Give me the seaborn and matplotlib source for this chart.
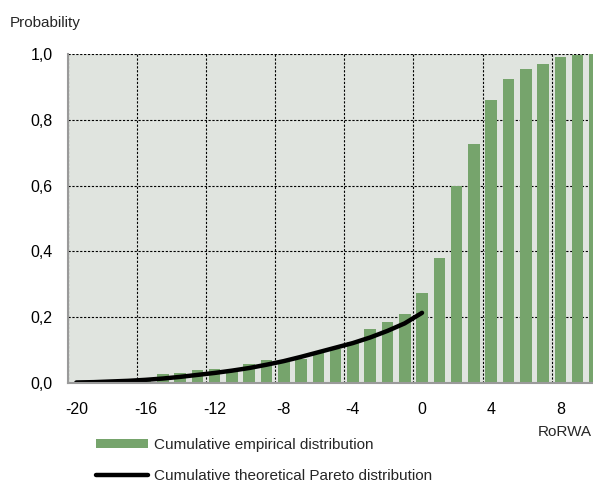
import numpy as np
import pandas as pd
import matplotlib
matplotlib.use("Agg")
import matplotlib.pyplot as plt
import seaborn as sns
from matplotlib.ticker import FuncFormatter

# ---- data ----
rorwa = list(range(-20, 11))
empirical = [0.000, 0.002, 0.004, 0.006, 0.008, 0.026, 0.029, 0.039, 0.042, 0.033,
             0.057, 0.069, 0.064, 0.072, 0.090, 0.103, 0.124, 0.163, 0.184, 0.209,
             0.272, 0.379, 0.600, 0.727, 0.861, 0.924, 0.954, 0.969, 0.991, 0.997,
             1.000]
pareto_x = list(range(-20, 1))
pareto = [0.001, 0.002, 0.004, 0.006, 0.009, 0.013, 0.018, 0.024, 0.030, 0.037,
          0.045, 0.055, 0.066, 0.079, 0.093, 0.107, 0.121, 0.138, 0.158, 0.181,
          0.213]
xtick_vals = [-20, -16, -12, -8, -4, 0, 4, 8]
ytick_vals = [0.0, 0.2, 0.4, 0.6, 0.8, 1.0]
label_emp = "Cumulative empirical distribution"
label_par = "Cumulative theoretical Pareto distribution"

sns.set_style("white")
plt.rcParams['font.family'] = ['Liberation Sans', 'DejaVu Sans']

GREEN = '#76a46c'
BG = '#e0e4df'
W, H = 593, 482

fig = plt.figure(figsize=(W / 100, H / 100), dpi=100)
left, right, top, bottom = 67.7, 603.5, 54.3, 382.8
ax = fig.add_axes([left / W, 1 - bottom / H, (right - left) / W, (bottom - top) / H])
ax.set_facecolor(BG)

df = pd.DataFrame({"RoRWA": rorwa, "p": empirical})
sns.barplot(data=df, x="RoRWA", y="p", native_scale=True, width=0.67,
            color=GREEN, saturation=1, linewidth=0, ax=ax, label=label_emp,
            zorder=2)
sns.lineplot(x=pareto_x, y=pareto, color='black', linewidth=3.2, ax=ax,
             label=label_par, zorder=3, solid_capstyle='round')

ax.set_xlim(-20.5, 10.5)
ax.set_ylim(0, 1.0)
ax.set_xticks(xtick_vals)
ax.set_xticklabels([str(v) for v in xtick_vals])
ax.set_xticks(np.arange(-20.5, 10, 4), minor=True)
ax.set_yticks(ytick_vals)
ax.yaxis.set_major_formatter(FuncFormatter(lambda v, p: f"{v:.1f}".replace('.', ',')))
ax.set_xlabel("")
ax.set_ylabel("")

ax.set_axisbelow(True)
ax.grid(False)
ax.grid(which='major', axis='y', color='black', linestyle=(0, (2.0, 1.5)), linewidth=0.8)
ax.grid(which='minor', axis='x', color='black', linestyle=(0, (2.0, 1.5)), linewidth=0.8)

for s in ['top', 'right']:
    ax.spines[s].set_visible(False)
for s in ['left', 'bottom']:
    ax.spines[s].set_color('#9a9a9a')
    ax.spines[s].set_linewidth(1.5)
    ax.spines[s].set_zorder(4)

ax.tick_params(axis='both', which='both', length=0, labelsize=11.5, colors='black')
ax.tick_params(axis='y', pad=11)
ax.tick_params(axis='x', pad=14)

handles, labels = ax.get_legend_handles_labels()
if ax.get_legend() is not None:
    ax.get_legend().remove()
order = [labels.index(label_emp), labels.index(label_par)]
fig.legend([handles[i] for i in order], [labels[i] for i in order], loc='upper left',
           bbox_to_anchor=(96 / W, 1 - 438 / H), frameon=False, fontsize=11,
           handlelength=3.4, handleheight=0.5, handletextpad=0.4,
           labelspacing=1.12, borderpad=0, borderaxespad=0)

fig.text(10 / W, 1 - 23 / H, "Probability", ha='left', va='center', fontsize=11)
fig.text(538 / W, 1 - 432 / H, "RoRWA", ha='left', va='center', fontsize=11)

fig.savefig("out.png", dpi=100)
